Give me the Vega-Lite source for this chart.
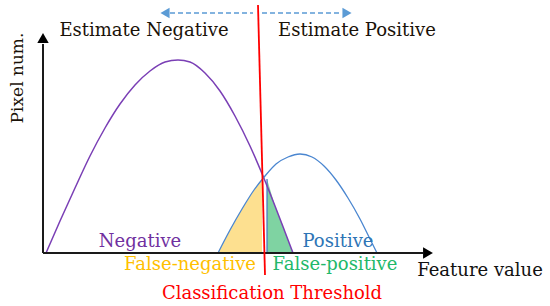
{
  "$schema": "https://vega.github.io/schema/vega-lite/v6.json",
  "width": 550,
  "height": 306,
  "autosize": {"type": "fit", "contains": "padding"},
  "padding": 0,
  "background": "white",
  "config": {"view": {"stroke": null}},
  "datasets": {
    "negative": [
      {"x": 3, "y": 0}, {"x": 17, "y": 32}, {"x": 32, "y": 65}, {"x": 47, "y": 97},
      {"x": 62, "y": 125}, {"x": 77, "y": 149}, {"x": 92, "y": 168}, {"x": 107, "y": 182},
      {"x": 122, "y": 191}, {"x": 135, "y": 193}, {"x": 147, "y": 191}, {"x": 162, "y": 180},
      {"x": 177, "y": 162}, {"x": 192, "y": 137}, {"x": 207, "y": 107}, {"x": 220, "y": 77},
      {"x": 232, "y": 47}, {"x": 242, "y": 21}, {"x": 250, "y": 0}
    ],
    "positive": [
      {"x": 175, "y": 0}, {"x": 187, "y": 23}, {"x": 199, "y": 44}, {"x": 211, "y": 63},
      {"x": 222, "y": 77}, {"x": 233, "y": 89}, {"x": 245, "y": 96}, {"x": 257, "y": 99},
      {"x": 269, "y": 96}, {"x": 281, "y": 87}, {"x": 293, "y": 73}, {"x": 305, "y": 55},
      {"x": 317, "y": 34}, {"x": 327, "y": 14}, {"x": 334, "y": 0}
    ],
    "falseNeg": [
      {"x": 175, "y": 0}, {"x": 187, "y": 23}, {"x": 199, "y": 44}, {"x": 211, "y": 63}, {"x": 219, "y": 74}
    ],
    "falsePos": [
      {"x": 224, "y": 74}, {"x": 232, "y": 47}, {"x": 242, "y": 21}, {"x": 250, "y": 0}
    ],
    "axes": [
      {"x": 0, "y": 0, "x2": 0, "y2": 209},
      {"x": 0, "y": 0, "x2": 380, "y2": 0}
    ],
    "axisHeads": [
      {"x": 0, "y": 215, "dir": "up"},
      {"x": 385, "y": 0, "dir": "right"}
    ],
    "dashes": [
      {"x": 127, "x2": 210, "y": 240},
      {"x": 219, "x2": 299, "y": 240}
    ],
    "dashHeads": [
      {"x": 122, "y": 240, "dir": "left"},
      {"x": 304, "y": 240, "dir": "right"}
    ],
    "threshold": [{"x": 215, "y": 248, "x2": 222, "y2": -22}],
    "edge": [{"x": 224, "y": 0, "y2": 74}],
    "labels": [
      {"text": "Estimate Negative", "x": 101, "y": 217},
      {"text": "Estimate Positive", "x": 314, "y": 217},
      {"text": "Negative", "x": 97, "y": 6},
      {"text": "Positive", "x": 295, "y": 6},
      {"text": "False-negative", "x": 147, "y": -17},
      {"text": "False-positive", "x": 292, "y": -17},
      {"text": "Feature value", "x": 437, "y": -23},
      {"text": "Classification Threshold", "x": 229, "y": -46}
    ],
    "ylabel": [{"text": "Pixel num.", "x": -25, "y": 175}]
  },
  "resolve": {"scale": {"color": "independent", "shape": "independent"}},
  "layer": [
    {
      "data": {"name": "falseNeg"},
      "mark": {"type": "area", "color": "#fde090", "opacity": 1},
      "encoding": {
        "x": {"field": "x", "type": "quantitative", "scale": {"domain": [-43, 507], "nice": false, "zero": false}, "axis": null},
        "y": {"field": "y", "type": "quantitative", "scale": {"domain": [-53, 253], "nice": false, "zero": false}, "axis": null},
        "y2": {"datum": 0}
      }
    },
    {
      "data": {"name": "falsePos"},
      "mark": {"type": "area", "color": "#7fd3a2", "opacity": 1},
      "encoding": {
        "x": {"field": "x", "type": "quantitative"},
        "y": {"field": "y", "type": "quantitative"},
        "y2": {"datum": 0}
      }
    },
    {
      "data": {"name": "edge"},
      "mark": {"type": "rule", "color": "#4472c4", "strokeWidth": 1.2},
      "encoding": {
        "x": {"field": "x", "type": "quantitative"},
        "y": {"field": "y", "type": "quantitative"},
        "y2": {"field": "y2"}
      }
    },
    {
      "data": {"name": "negative"},
      "mark": {"type": "line", "color": "#7a3fb5", "strokeWidth": 1.5, "interpolate": "monotone"},
      "encoding": {
        "x": {"field": "x", "type": "quantitative"},
        "y": {"field": "y", "type": "quantitative"}
      }
    },
    {
      "data": {"name": "positive"},
      "mark": {"type": "line", "color": "#4a86d0", "strokeWidth": 1.3, "interpolate": "monotone"},
      "encoding": {
        "x": {"field": "x", "type": "quantitative"},
        "y": {"field": "y", "type": "quantitative"}
      }
    },
    {
      "data": {"name": "axes"},
      "mark": {"type": "rule", "color": "#1a1a1a", "strokeWidth": 2},
      "encoding": {
        "x": {"field": "x", "type": "quantitative"},
        "y": {"field": "y", "type": "quantitative"},
        "x2": {"field": "x2"},
        "y2": {"field": "y2"}
      }
    },
    {
      "data": {"name": "axisHeads"},
      "mark": {"type": "point", "filled": true, "color": "#000000", "size": 130, "opacity": 1},
      "encoding": {
        "x": {"field": "x", "type": "quantitative"},
        "y": {"field": "y", "type": "quantitative"},
        "shape": {"field": "dir", "type": "nominal", "scale": {"domain": ["up", "right", "left"], "range": ["triangle-up", "triangle-right", "triangle-left"]}, "legend": null}
      }
    },
    {
      "data": {"name": "dashes"},
      "mark": {"type": "rule", "color": "#5b9bd5", "strokeWidth": 1.5, "strokeDash": [5, 3]},
      "encoding": {
        "x": {"field": "x", "type": "quantitative"},
        "x2": {"field": "x2"},
        "y": {"field": "y", "type": "quantitative"}
      }
    },
    {
      "data": {"name": "dashHeads"},
      "mark": {"type": "point", "filled": true, "color": "#5b9bd5", "size": 110, "opacity": 1},
      "encoding": {
        "x": {"field": "x", "type": "quantitative"},
        "y": {"field": "y", "type": "quantitative"},
        "shape": {"field": "dir", "type": "nominal", "scale": {"domain": ["up", "right", "left"], "range": ["triangle-up", "triangle-right", "triangle-left"]}, "legend": null}
      }
    },
    {
      "data": {"name": "threshold"},
      "mark": {"type": "rule", "color": "#ff0000", "strokeWidth": 1.8},
      "encoding": {
        "x": {"field": "x", "type": "quantitative"},
        "y": {"field": "y", "type": "quantitative"},
        "x2": {"field": "x2"},
        "y2": {"field": "y2"}
      }
    },
    {
      "data": {"name": "labels"},
      "mark": {"type": "text", "font": "DejaVu Serif", "fontSize": 18, "align": "center", "baseline": "alphabetic"},
      "encoding": {
        "x": {"field": "x", "type": "quantitative"},
        "y": {"field": "y", "type": "quantitative"},
        "text": {"field": "text"},
        "color": {
          "field": "text", "type": "nominal", "legend": null,
          "scale": {
            "domain": ["Estimate Negative", "Estimate Positive", "Negative", "Positive", "False-negative", "False-positive", "Feature value", "Classification Threshold"],
            "range": ["#1a1208", "#1a1208", "#7030a0", "#2e75b6", "#ffc000", "#22b86a", "#111111", "#ff0000"]
          }
        }
      }
    },
    {
      "data": {"name": "ylabel"},
      "mark": {"type": "text", "font": "DejaVu Serif", "fontSize": 17, "align": "center", "baseline": "middle", "angle": 270, "color": "#1a1208"},
      "encoding": {
        "x": {"field": "x", "type": "quantitative"},
        "y": {"field": "y", "type": "quantitative"},
        "text": {"field": "text"}
      }
    }
  ]
}
